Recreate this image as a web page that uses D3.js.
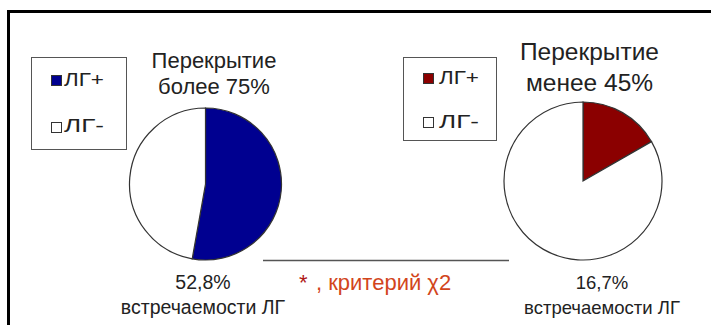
<!DOCTYPE html>
<html>
<head>
<meta charset="utf-8">
<script src="https://cdn.jsdelivr.net/npm/d3@7"></script>
<style>
  html, body { margin: 0; padding: 0; background: #fff; }
  svg { display: block; font-family: "Liberation Sans", Arial, sans-serif; }
</style>
</head>
<body>
<svg id="chart" width="711" height="325"></svg>
<script>
// Two groups compared by the share of ЛГ occurrence
const groups = ["Перекрытие более 75%", "Перекрытие менее 45%"];
const titleLines = [["Перекрытие", "более 75%"], ["Перекрытие", "менее 45%"]];
const categories = ["ЛГ+", "ЛГ-"];
const positiveShare = [52.8, 16.7];
const shareLabels = ["52,8%", "16,7%"];
const footnote = ["*", ", критерий χ2"];

const svg = d3.select("#chart");
const textColor = "#222";
const sliceColors = [["#000090", "#ffffff"], ["#8b0000", "#ffffff"]];

// outer frame
svg.append("rect")
  .attr("x", 8.5).attr("y", 11.5)
  .attr("width", 740).attr("height", 340)
  .attr("fill", "none").attr("stroke", "#000").attr("stroke-width", 3);

const layout = [
  { cx: 205.5, cy: 184, r: 76,
    title: { x: 214, y: [68, 94], size: 22 },
    legend: { x: 31, y: 57, w: 95, h: 92, sq: 51, sqY: [75, 122], tx: 64, ty: [86, 132] },
    label: { x: 203, y: [289, 314], size: 19.5 } },
  { cx: 583, cy: 181, r: 79,
    title: { x: 589.5, y: [60, 91], size: 24.5 },
    legend: { x: 403, y: 57, w: 93, h: 83, sq: 423, sqY: [73, 117], tx: 439, ty: [84, 128] },
    label: { x: 602, y: [289, 314], size: 18.5 } }
];

const pie = d3.pie().sort(null).value(d => d);

groups.forEach((g, i) => {
  const L = layout[i];
  const values = [positiveShare[i], 100 - positiveShare[i]];
  const arc = d3.arc().innerRadius(0).outerRadius(L.r);

  const pg = svg.append("g").attr("transform", `translate(${L.cx},${L.cy})`);
  pg.selectAll("path")
    .data(pie(values))
    .join("path")
    .attr("d", arc)
    .attr("fill", (d, k) => sliceColors[i][k])
    .attr("stroke", "#333")
    .attr("stroke-width", 1.2);

  // title
  titleLines[i].forEach((line, k) => {
    svg.append("text")
      .attr("x", L.title.x).attr("y", L.title.y[k])
      .attr("text-anchor", "middle")
      .attr("font-size", L.title.size)
      .attr("fill", textColor)
      .text(line);
  });

  // legend
  const lg = L.legend;
  svg.append("rect")
    .attr("x", lg.x + 0.5).attr("y", lg.y + 0.5)
    .attr("width", lg.w).attr("height", lg.h)
    .attr("fill", "#fff").attr("stroke", "#555").attr("stroke-width", 1);
  categories.forEach((c, k) => {
    svg.append("rect")
      .attr("x", lg.sq + 0.5).attr("y", lg.sqY[k] + 0.5)
      .attr("width", 10).attr("height", 10)
      .attr("fill", sliceColors[i][k])
      .attr("stroke", "#333").attr("stroke-width", 1);
    // legend labels are set wide: stretch each to its box width
    const t = svg.append("text")
      .attr("x", 0).attr("y", 0)
      .attr("font-size", 18)
      .attr("fill", textColor)
      .text(c);
    const w = t.node().getComputedTextLength();
    const sx = 40 / w;
    t.attr("transform", `translate(${lg.tx},${lg.ty[k]}) scale(${sx},1)`);
  });

  // occurrence label
  const lb = L.label;
  [shareLabels[i], "встречаемости ЛГ"].forEach((t, k) => {
    svg.append("text")
      .attr("x", lb.x).attr("y", lb.y[k])
      .attr("text-anchor", "middle")
      .attr("font-size", lb.size)
      .attr("fill", textColor)
      .text(t);
  });
});

// significance bracket between groups
svg.append("line")
  .attr("x1", 263).attr("x2", 509)
  .attr("y1", 260.5).attr("y2", 260.5)
  .attr("stroke", "#555").attr("stroke-width", 1.5);

svg.append("text")
  .attr("x", 299).attr("y", 290)
  .attr("font-size", 22)
  .attr("fill", "#b01818")
  .text(footnote[0]);
svg.append("text")
  .attr("x", 316).attr("y", 290)
  .attr("font-size", 22)
  .attr("fill", "#d2451c")
  .text(footnote[1]);
</script>
</body>
</html>
